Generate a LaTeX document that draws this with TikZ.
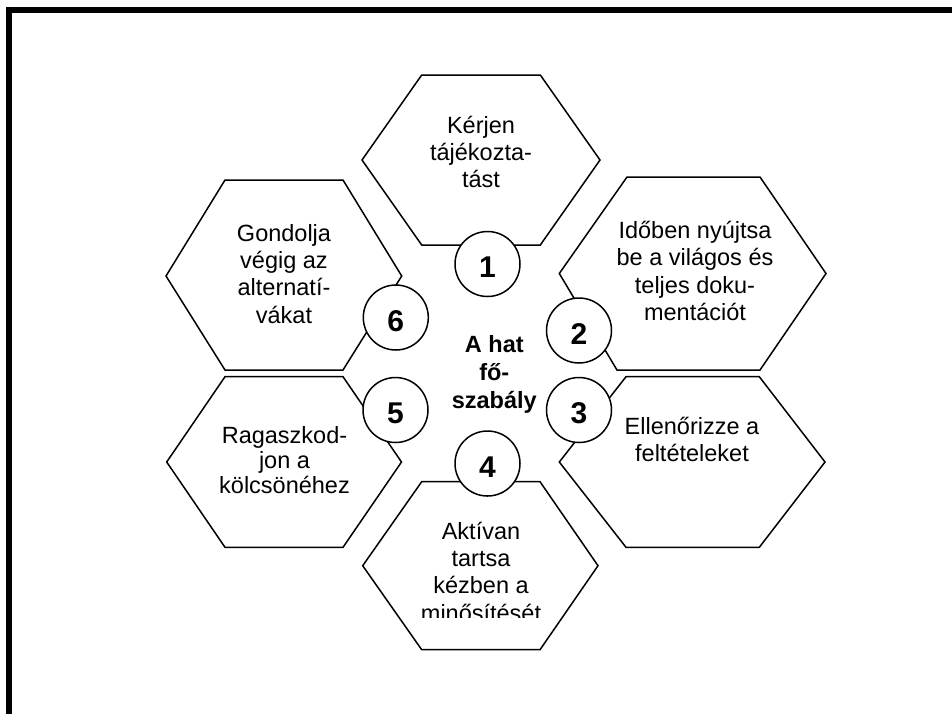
\documentclass[tikz,border=0pt]{standalone}
\usepackage{fontspec}
\setmainfont{Liberation Sans}
\begin{document}
\begin{tikzpicture}[x=1pt,y=-1pt,
  hexline/.style={draw=black,line width=1.5pt,line join=miter},
  txt/.style={inner sep=0pt,align=center,anchor=north,
    font=\fontsize{23.5}{27.3}\selectfont},
  tighttxt/.style={txt,font=\fontsize{23.5}{23.3}\selectfont},
  hubtxt/.style={inner sep=0pt,align=center,anchor=north,
    font=\fontsize{23.5}{28}\selectfont\bfseries},
  numcircle/.style={circle,draw=black,fill=white,line width=1.5pt,
    minimum size=65pt,inner sep=0pt,text height=27.4pt,text depth=0pt,
    font=\fontsize{30}{30}\selectfont\bfseries}]
\useasboundingbox (0,0) rectangle (952,713);
\clip (0,0) rectangle (952,713);
\fill[white] (0,0) rectangle (952,713);

% outer frame (only its top and left sides fall inside the page)
\draw[line width=5.8pt,line join=miter] (9,740) -- (9,10.3) -- (980,10.3);

% six hexagons
\draw[hexline] (362,160) -- (421.7,75) -- (540.3,75) -- (600,160) -- (540.3,245) -- (421.7,245) -- cycle;
\draw[hexline] (559.3,273.5) -- (627,177) -- (760,177) -- (826,273.5) -- (760,370) -- (617,370) -- cycle;
\draw[hexline] (559.3,462) -- (626,376.7) -- (759.3,376.7) -- (825,462) -- (759.3,547.3) -- (626,547.3) -- cycle;
\draw[hexline] (362.7,565.7) -- (421.7,481.7) -- (540,481.7) -- (598,565.7) -- (540,649.7) -- (421.7,649.7) -- cycle;
\draw[hexline] (166.7,462) -- (225,376.7) -- (343,376.7) -- (401.5,462) -- (343,547.3) -- (225,547.3) -- cycle;
\draw[hexline] (166,276) -- (225,180) -- (343,180) -- (401.7,276) -- (343,370) -- (225,370) -- cycle;

% hexagon texts
\node[txt] (t1) at (481,113.9) {\strut Kérjen\\\strut tájékozta-\\\strut tást};
\node[txt] (t2) at (695,219.2) {\strut Időben nyújtsa\\\strut be a világos és\\\strut teljes doku-\\\strut mentációt};
\node[txt] (t3) at (692,414.9) {\strut Ellenőrizze a\\\strut feltételeket};
\begin{scope}
  \clip (340,470) rectangle (620,617);
  \node[txt] (t4) at (481,519.9) {\strut Aktívan\\\strut tartsa\\\strut kézben a\\\strut minősítését};
\end{scope}
\node[tighttxt] (t5) at (284.5,426.4) {\strut Ragaszkod-\\\strut jon a\\\strut kölcsönéhez};
\node[txt] (t6) at (284,221.9) {\strut Gondolja\\\strut végig az\\\strut alternatí-\\\strut vákat};

% hub text
\node[hubtxt] (hub) at (494.3,332.7) {\strut A hat\\\strut fő-\\\strut szabály};

% numbered circles
\node[numcircle] (n1) at (487.5,264) {1};
\node[numcircle] (n2) at (579,330.5) {2};
\node[numcircle] (n3) at (579,410) {3};
\node[numcircle] (n4) at (487.5,463.5) {4};
\node[numcircle] (n5) at (395.5,410) {5};
\node[numcircle] (n6) at (395.8,317.5) {6};
\end{tikzpicture}
\end{document}
